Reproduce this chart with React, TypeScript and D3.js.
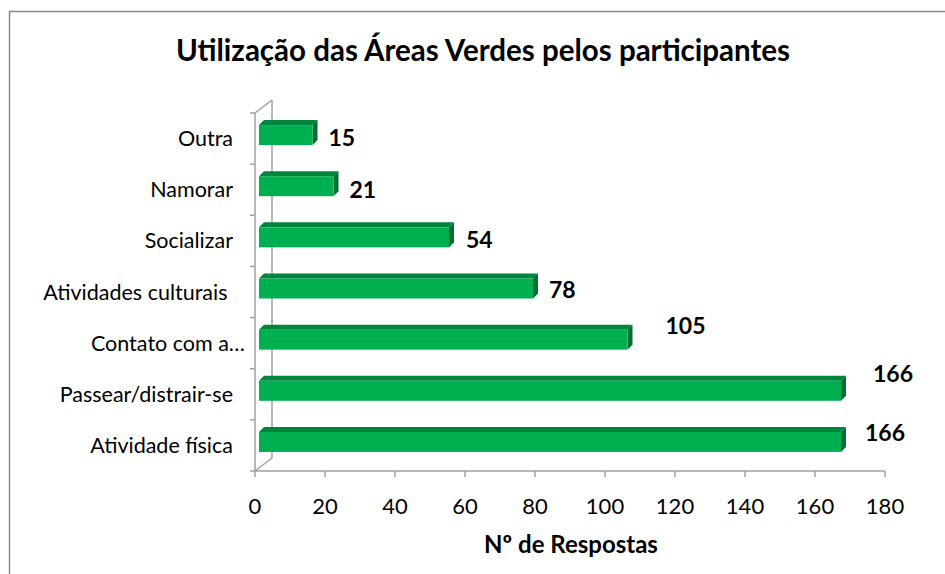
import React from 'react';
import * as d3 from 'd3';

const categories = [
  'Outra',
  'Namorar',
  'Socializar',
  'Atividades culturais ',
  'Contato com a…',
  'Passear/distrair-se',
  'Atividade física',
];
const values = [15, 21, 54, 78, 105, 166, 166];
const xTicks = [0, 20, 40, 60, 80, 100, 120, 140, 160, 180];
const chartTitle = 'Utilização das Áreas Verdes pelos participantes';
const xTitle = 'Nº de Respostas';

// nudges for the value labels, from the band centre (Excel placed them a bit irregularly)
const labelNudge: [number, number][] = [
  [11, -1], [11, 0], [12, -1], [11, -2], [33, -17], [27, -20], [19, -12],
];

const FONT = 'Lato, "Open Sans", sans-serif';

const App = () => {
  const W = 945;
  const H = 574;

  const x = d3.scaleLinear().domain([0, 180]).range([255, 885]);
  const y = d3.scaleBand<string>().domain(categories).range([113, 471]);

  // 3d wall depth
  const wdx = 17;
  const wdy = -13;
  // bar depth
  const bdx = 5;
  const bdy = -5;
  const barH = 20;

  const axisColor = '#a0a0a0';
  const front = '#00b050';
  const top = '#00843c';
  const side = '#006f32';

  const boundaries = d3.range(categories.length + 1).map(i => 113 + i * y.step());

  return (
    <svg width={W} height={H} style={{ position: 'absolute', left: 0, top: 0, background: '#fff' }}>
      <rect x={9.5} y={11.5} width={1000} height={1000} fill="#fff" stroke="#888" strokeWidth={1.5} />

      <text x={483} y={61} textAnchor="middle" fontFamily={FONT} fontWeight="bold" fontSize={29.5} fill="#000">
        {chartTitle}
      </text>

      {/* wall */}
      <g stroke={axisColor} strokeWidth={1.5} fill="none">
        <line x1={x(0)} y1={113} x2={x(0)} y2={471} />
        <line x1={x(0) + wdx} y1={113 + wdy} x2={x(0) + wdx} y2={471 + wdy} />
        <line x1={x(0)} y1={113} x2={x(0) + wdx} y2={113 + wdy} />
        <line x1={x(0)} y1={471} x2={x(0) + wdx} y2={471 + wdy} />
        <line x1={x(0)} y1={471} x2={x(180)} y2={471} />
        {boundaries.map((b, i) => (
          <line key={'yt' + i} x1={x(0) - 5} y1={b} x2={x(0)} y2={b} />
        ))}
        {xTicks.map(t => (
          <line key={'xt' + t} x1={x(t)} y1={471} x2={x(t)} y2={477} />
        ))}
      </g>

      {/* bars */}
      {categories.map((c, i) => {
        const bc = (y(c) as number) + y.bandwidth() / 2;
        const cy = bc - 3.5;
        const y0 = cy - barH / 2;
        const y1 = cy + barH / 2;
        const x0 = x(0) + 4;
        const x1 = x(values[i]) + 5;
        return (
          <g key={c}>
            <polygon
              points={`${x0},${y0} ${x0 + bdx},${y0 + bdy} ${x1 + bdx},${y0 + bdy} ${x1},${y0}`}
              fill={top}
            />
            <polygon
              points={`${x1},${y0} ${x1 + bdx},${y0 + bdy} ${x1 + bdx},${y1 + bdy} ${x1},${y1}`}
              fill={side}
            />
            <rect x={x0} y={y0} width={x1 - x0} height={barH} fill={front} />
            <text
              x={x1 + bdx + labelNudge[i][0]}
              y={bc + labelNudge[i][1]}
              dy="0.35em"
              fontFamily={FONT}
              fontWeight="bold"
              fontSize={23}
              fill="#000"
            >
              {values[i]}
            </text>
          </g>
        );
      })}

      {/* category labels */}
      {categories.map(c => (
        <text
          key={'cl' + c}
          x={c.endsWith('…') ? 245 : 233}
          y={(y(c) as number) + y.bandwidth() / 2}
          dy="0.35em"
          textAnchor="end"
          fontFamily={FONT}
          fontSize={21.5}
          fill="#000"
          style={{ whiteSpace: 'pre' }}
        >
          {c}
        </text>
      ))}

      {/* x tick labels */}
      {xTicks.map(t => (
        <text key={'xl' + t} x={x(t)} y={514} textAnchor="middle" fontFamily={FONT} fontSize={22} fill="#000">
          {t}
        </text>
      ))}

      <text x={571} y={553} textAnchor="middle" fontFamily={FONT} fontWeight="bold" fontSize={24} fill="#000">
        {xTitle}
      </text>
    </svg>
  );
};

export default App;
